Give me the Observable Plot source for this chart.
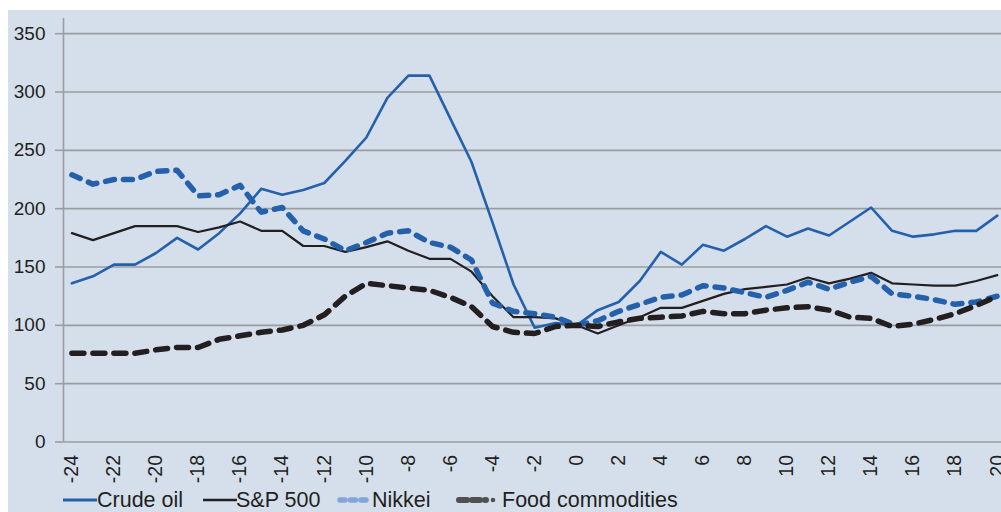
<!DOCTYPE html>
<html>
<head>
<meta charset="utf-8">
<script src="https://cdn.jsdelivr.net/npm/d3@7"></script>
<script src="https://cdn.jsdelivr.net/npm/@observablehq/plot@0.6"></script>
<style>
  html, body { margin: 0; padding: 0; background: #ffffff; }
  #wrap { position: absolute; left: 0; top: 0; width: 1001px; height: 512px; overflow: hidden;
          font-family: "Liberation Sans", Arial, Helvetica, sans-serif; color: #231f20; }
  #panel { position: absolute; left: 8px; top: 10px; right: 0; bottom: 0; background: #d5dfec; }
  #chart { position: absolute; left: 0; top: 0; }
  .sw { position: absolute; top: 487px; display: block; }
  .lt { position: absolute; top: 487px; height: 26px; line-height: 26px; font-size: 21.5px; white-space: nowrap; }
</style>
</head>
<body>
<div id="wrap">
  <div id="panel"></div>
  <div id="chart"></div>
  <div id="legend"></div>
</div>
<script>
// ---- data ----
const months = [-24,-23,-22,-21,-20,-19,-18,-17,-16,-15,-14,-13,-12,-11,-10,-9,-8,-7,-6,-5,-4,-3,-2,-1,0,
                 1,2,3,4,5,6,7,8,9,10,11,12,13,14,15,16,17,18,19,20];
const crudeOil = [136,142,152,152,162,175,165,179,196,217,212,216,222,241,261,295,314,314,277,240,188,135,98,102,100,
                  113,120,138,163,152,169,164,174,185,176,183,177,189,201,181,176,178,181,181,194];
const sp500 = [179,173,179,185,185,185,180,184,189,181,181,168,168,163,167,172,164,157,157,146,125,107,107,106,100,
               93,100,107,115,115,121,127,131,133,135,141,136,140,145,136,135,134,134,138,143];
const nikkei = [229,221,225,225,232,233,211,212,220,197,201,181,174,164,171,179,181,171,167,156,119,112,110,107,100,
                104,112,118,124,126,134,132,128,124,130,137,131,137,142,127,125,122,118,120,125];
const food = [76,76,76,76,79,81,81,88,91,94,96,100,109,125,136,134,132,130,124,116,99,94,93,99,100,
              99,103,106,107,108,112,110,110,113,115,116,113,107,106,99,101,105,110,117,125];
const seriesNames = ["Crude oil", "S&P 500", "Nikkei", "Food commodities"];
const xTicks = [-24,-22,-20,-18,-16,-14,-12,-10,-8,-6,-4,-2,0,2,4,6,8,10,12,14,16,18,20];
const xTickLabels = ["-24","-22","-20","-18","-16","-14","-12","-10","-8","-6","-4","-2","0","2","4","6","8","10","12","14","16","18","20"];
const yTicks = [0,50,100,150,200,250,300,350];

// ---- build long table ----
const seriesValues = [crudeOil, sp500, nikkei, food];
const rows = [];
seriesNames.forEach((name, si) => months.forEach((m, i) => rows.push({series: name, m, v: seriesValues[si][i]})));
const only = name => rows.filter(r => r.series === name);

const xDomain = [-24.4, 20.2];
const gridColor = "#9b9da1";
const blue = "#2560aa";
const black = "#231f20";
const labelOf = new Map(xTicks.map((t, i) => [t, xTickLabels[i]]));

const chart = Plot.plot({
  width: 1001,
  height: 485,
  marginLeft: 63,
  marginRight: 0,
  marginTop: 18,
  marginBottom: 43.5,
  style: {background: "transparent", fontFamily: "'Liberation Sans', Arial, Helvetica, sans-serif", color: black, overflow: "visible"},
  x: {domain: xDomain, label: null},
  y: {domain: [0, 363], label: null},
  marks: [
    Plot.gridY(yTicks, {stroke: gridColor, strokeOpacity: 1, strokeWidth: 1.6}),
    Plot.axisY(yTicks, {tickSize: 8, tickPadding: 10, stroke: gridColor, strokeWidth: 1.6, fontSize: 19, fill: black, label: null}),
    Plot.ruleX([xDomain[0]], {stroke: gridColor, strokeWidth: 1.6}),
    Plot.axisX(xTicks, {tickSize: 0, tickPadding: 13, tickRotate: -90, fontSize: 19.5, fill: black,
                        tickFormat: d => labelOf.get(d), label: null}),
    Plot.line(only("Crude oil"), {x: "m", y: "v", stroke: blue, strokeWidth: 2.6, strokeLinejoin: "round"}),
    Plot.line(only("S&P 500"), {x: "m", y: "v", stroke: black, strokeWidth: 2.2, strokeLinejoin: "round"}),
    Plot.line(only("Nikkei"), {x: "m", y: "v", stroke: blue, strokeWidth: 5.5, strokeDasharray: "9,9",
                               strokeLinecap: "round", strokeLinejoin: "round"}),
    Plot.line(only("Food commodities"), {x: "m", y: "v", stroke: black, strokeWidth: 5.5, strokeDasharray: "12,9",
                                         strokeLinecap: "round", strokeLinejoin: "round"})
  ]
});
document.getElementById("chart").appendChild(chart);

// ---- legend ----
const legendSpec = [
  {name: seriesNames[0], sw: 63, tx: 97, svg: `<line x1="0" y1="13" x2="34" y2="13" stroke="${blue}" stroke-width="3"/>`},
  {name: seriesNames[1], sw: 203, tx: 236, svg: `<line x1="0" y1="13" x2="34" y2="13" stroke="${black}" stroke-width="2.6"/>`},
  {name: seriesNames[2], sw: 337, tx: 372, svg: `<line x1="3" y1="13" x2="32" y2="13" stroke="#82a6d8" stroke-width="5.5" stroke-dasharray="5,5.5" stroke-linecap="round"/>`},
  {name: seriesNames[3], sw: 456, tx: 502, svg: `<line x1="3" y1="13" x2="30" y2="13" stroke="#505050" stroke-width="6" stroke-dasharray="8,5" stroke-linecap="round"/><circle cx="37" cy="13" r="2.3" fill="#505050"/>`}
];
const legend = document.getElementById("legend");
legendSpec.forEach(s => {
  const sw = document.createElementNS("http://www.w3.org/2000/svg", "svg");
  sw.setAttribute("class", "sw");
  sw.setAttribute("width", "42");
  sw.setAttribute("height", "26");
  sw.style.left = s.sw + "px";
  sw.innerHTML = s.svg;
  legend.appendChild(sw);
  const t = document.createElement("div");
  t.className = "lt";
  t.style.left = s.tx + "px";
  t.textContent = s.name;
  legend.appendChild(t);
});
</script>
</body>
</html>
